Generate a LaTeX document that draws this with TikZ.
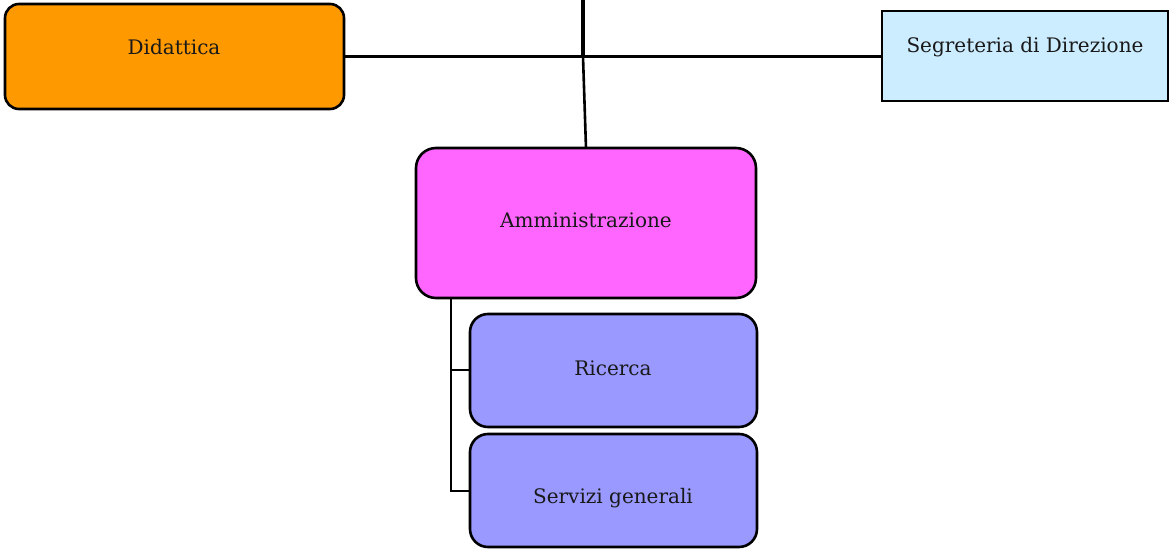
\documentclass[tikz,border=0pt]{standalone}
\usepackage{fontspec}
\setmainfont{DejaVu Serif}
\definecolor{orng}{HTML}{FF9900}
\definecolor{segblue}{HTML}{CCECFF}
\definecolor{mag}{HTML}{FF66FF}
\definecolor{lav}{HTML}{9999FF}
\tikzset{
  box/.style={draw=black,line width=2.6pt,inner sep=0pt,outer sep=0pt,anchor=north west},
  lbl/.style={font=\fontsize{20}{24}\selectfont,inner sep=0pt,text=black!90},
  conn/.style={line width=2.6pt,draw=black}
}
\begin{document}
\begin{tikzpicture}[x=1pt,y=-1pt]
\useasboundingbox (0,0) rectangle (1171,549);
% boxes
\node[box,fill=orng,rounded corners=14pt,minimum width=339pt,minimum height=105pt] (did) at (5,4) {};
\node[box,fill=segblue,minimum width=286pt,minimum height=90pt] (seg) at (882,11) {};
\node[box,fill=mag,rounded corners=20pt,minimum width=340pt,minimum height=150pt] (amm) at (416,148) {};
\node[box,fill=lav,rounded corners=18pt,minimum width=287pt,minimum height=113pt] (ric) at (470,314) {};
\node[box,fill=lav,rounded corners=18pt,minimum width=287pt,minimum height=113pt] (ser) at (470,434) {};
% labels
\node[lbl] (tdid) at (174,47) {Didattica};
\node[lbl] (tseg) at (1025,47) {Segreteria di Direzione};
\node[lbl] (tamm) at (586,220) {Amministrazione};
\node[lbl] (tric) at (613,368) {Ricerca};
\node[lbl] (tser) at (613,498) {Servizi generali};
% connectors
\coordinate (top) at (583,0);
\coordinate (jn) at (583,56.5);
\draw[conn,line width=4pt] (top) -- (jn);
\draw[conn] (did.east |- jn) -- (jn) -- (seg.west |- jn);
\draw[conn] (jn) -- (amm.north -| 586,0);
\coordinate (bx) at (451,298);
\draw[conn] (bx) -- (451,491) -- (ser.west |- 0,491);
\draw[conn] (451,370) -- (ric.west |- 0,370);
\end{tikzpicture}
\end{document}
